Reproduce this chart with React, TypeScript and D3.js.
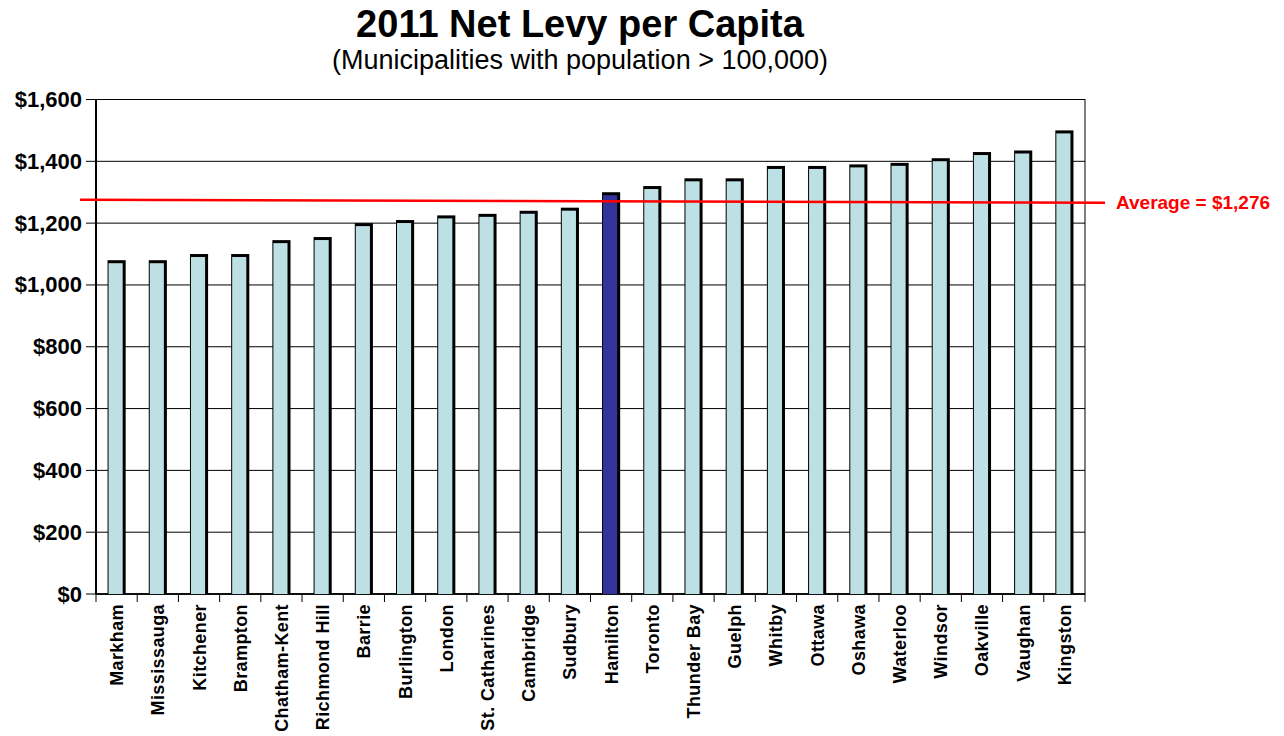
import React from "react";
import * as d3 from "d3";

const municipalities = [
  "Markham", "Mississauga", "Kitchener", "Brampton", "Chatham-Kent", "Richmond Hill",
  "Barrie", "Burlington", "London", "St. Catharines", "Cambridge", "Sudbury",
  "Hamilton", "Toronto", "Thunder Bay", "Guelph", "Whitby", "Ottawa", "Oshawa",
  "Waterloo", "Windsor", "Oakville", "Vaughan", "Kingston",
];
const levyPerCapita = [
  1080, 1080, 1100, 1100, 1145, 1155, 1200, 1210, 1225, 1230, 1240, 1250,
  1300, 1320, 1345, 1345, 1385, 1385, 1390, 1395, 1410, 1430, 1435, 1500,
];
const highlighted = "Hamilton";
const yTicks = [0, 200, 400, 600, 800, 1000, 1200, 1400, 1600];
const averageValue = 1276;
const averageLabel = "Average = $1,276";
const title = "2011 Net Levy per Capita";
const subtitle = "(Municipalities with population > 100,000)";

const W = 1284;
const H = 736;
const left = 96;
const right = 1085;
const top = 99.5;
const bottom = 594;
const FONT = "'Liberation Sans', Arial, Helvetica, sans-serif";

export default function App() {
  const x = d3.scaleBand<string>().domain(municipalities).range([left, right]).paddingInner(0.56).paddingOuter(0.28);
  const y = d3.scaleLinear().domain([0, 1600]).range([bottom, top]);
  const bw = x.bandwidth();
  const fmt = (v: number) => "$" + d3.format(",")(v);
  const boundaries = d3.range(municipalities.length + 1).map((i) => left + i * ((right - left) / municipalities.length));

  return (
    <svg width={W} height={H} style={{ position: "absolute", left: 0, top: 0, background: "#fff" }} fontFamily={FONT}>
      <rect x={0} y={0} width={W} height={H} fill="#fff" />
      <text x={580} y={37} textAnchor="middle" fontSize={38} fontWeight="bold" fill="#000">{title}</text>
      <text x={580} y={69} textAnchor="middle" fontSize={27} fill="#000">{subtitle}</text>

      {/* gridlines */}
      {yTicks.map((t) => (
        <line key={"g" + t} x1={left} x2={right} y1={y(t)} y2={y(t)} stroke="#000" strokeWidth={1} />
      ))}
      {/* y ticks and labels */}
      {yTicks.map((t) => (
        <g key={"t" + t}>
          <line x1={left - 10} x2={left} y1={y(t)} y2={y(t)} stroke="#000" strokeWidth={1} />
          <text x={82} y={y(t) + 7.5} textAnchor="end" fontSize={22} fontWeight="bold" fill="#000">{fmt(t)}</text>
        </g>
      ))}
      {/* plot border */}
      <rect x={left} y={top} width={right - left} height={bottom - top} fill="none" stroke="#000" strokeWidth={1} />
      <line x1={left} x2={left} y1={top} y2={bottom} stroke="#000" strokeWidth={2} />
      <line x1={left} x2={right} y1={bottom} y2={bottom} stroke="#000" strokeWidth={1.5} />

      {/* bars */}
      {municipalities.map((m, i) => {
        const v = levyPerCapita[i];
        const bx = x(m) as number;
        const by = y(v);
        const fill = m === highlighted ? "#333399" : "#BCE0E3";
        return (
          <g key={m}>
            <rect x={bx} y={by} width={bw} height={bottom - by} fill="#000" />
            <rect x={bx + 1} y={by + 3} width={bw - 4} height={bottom - by - 3} fill={fill} />
          </g>
        );
      })}

      {/* x ticks */}
      {boundaries.map((bxx, i) => (
        <line key={"xt" + i} x1={bxx} x2={bxx} y1={bottom} y2={bottom + 8} stroke="#000" strokeWidth={1} />
      ))}
      {/* x labels */}
      {municipalities.map((m) => {
        const cx = (x(m) as number) + bw / 2 + 6.5;
        return (
          <text key={"l" + m} transform={`translate(${cx},604) rotate(-90)`} textAnchor="end" fontSize={18} fontWeight="bold" letterSpacing={0.4} fill="#000">{m}</text>
        );
      })}

      {/* average line */}
      <line x1={80} x2={1105} y1={y(averageValue)} y2={y(averageValue) + 3} stroke="#FF0000" strokeWidth={2.5} />
      <text x={1116} y={y(averageValue) + 9} fontSize={19} fontWeight="bold" fill="#FF0000">{averageLabel}</text>
    </svg>
  );
}
